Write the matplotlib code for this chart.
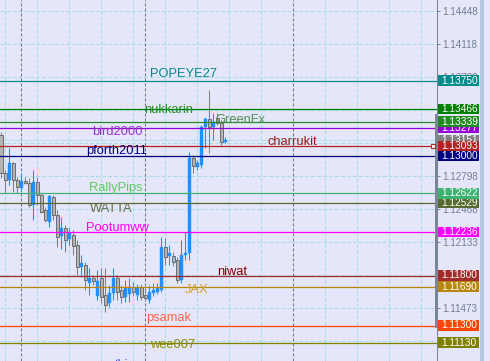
#!/usr/bin/env python3
"""
EURUSD-style candle chart with named horizontal price levels
(MetaTrader look: lavender background, price boxes on the right)
"""

import matplotlib.pyplot as plt
from matplotlib.patches import Rectangle

plt.rcParams['font.family'] = ['Liberation Sans', 'DejaVu Sans']
plt.rcParams['lines.scale_dashes'] = False

# ============================================================
# DATA
# ============================================================

# candles, oldest first
opens = [1.13205, 1.12825, 1.12755, 1.12925, 1.12755, 1.12675, 1.12745, 1.12725,
         1.12505, 1.12735, 1.12605, 1.12455, 1.12335, 1.12585, 1.12405, 1.12195,
         1.12275, 1.12165, 1.12205, 1.12105, 1.11885, 1.11905, 1.11725, 1.11775,
         1.11595, 1.11775, 1.11605, 1.11525, 1.11625, 1.11775, 1.11655, 1.11585,
         1.11615, 1.11685, 1.11605, 1.11685, 1.11605, 1.11555, 1.11625, 1.11635,
         1.11655, 1.12085, 1.11995, 1.11995, 1.11955, 1.11755, 1.12005, 1.12025,
         1.12975, 1.12885, 1.12905, 1.13285, 1.13365, 1.13285, 1.13375, 1.13325,
         1.13135]
highs = [1.13235, 1.12855, 1.13075, 1.12935, 1.12785, 1.12825, 1.12785, 1.12775,
         1.12855, 1.12785, 1.12625, 1.12485, 1.12605, 1.12605, 1.12455, 1.12385,
         1.12305, 1.12275, 1.12255, 1.12155, 1.12005, 1.11935, 1.11875, 1.11805,
         1.11855, 1.11875, 1.11875, 1.11705, 1.11875, 1.11805, 1.11705, 1.11755,
         1.11775, 1.11735, 1.11715, 1.11715, 1.11655, 1.11705, 1.11725, 1.11725,
         1.12185, 1.12175, 1.12105, 1.12035, 1.11985, 1.12155, 1.12235, 1.13035,
         1.13005, 1.12955, 1.13305, 1.13385, 1.13655, 1.13425, 1.13425, 1.13355,
         1.13185]
lows = [1.12775, 1.12625, 1.12705, 1.12635, 1.12625, 1.12635, 1.12715, 1.12485,
        1.12355, 1.12505, 1.12425, 1.12335, 1.12285, 1.12355, 1.12085, 1.12065,
        1.12035, 1.12105, 1.12005, 1.11805, 1.11785, 1.11655, 1.11605, 1.11705,
        1.11555, 1.11525, 1.11435, 1.11485, 1.11555, 1.11555, 1.11525, 1.11535,
        1.11535, 1.11595, 1.11555, 1.11555, 1.11555, 1.11525, 1.11595, 1.11615,
        1.11635, 1.11905, 1.11905, 1.11895, 1.11725, 1.11725, 1.11955, 1.11955,
        1.12825, 1.12855, 1.12875, 1.13075, 1.13025, 1.13155, 1.13305, 1.13105,
        1.13125]
closes = [1.12825, 1.12755, 1.12925, 1.12755, 1.12685, 1.12745, 1.12725, 1.12505,
          1.12735, 1.12605, 1.12435, 1.12355, 1.12595, 1.12405, 1.12185, 1.12275,
          1.12155, 1.12225, 1.12095, 1.11885, 1.11925, 1.11755, 1.11775, 1.11745,
          1.11745, 1.11585, 1.11505, 1.11625, 1.11775, 1.11635, 1.11585, 1.11675,
          1.11685, 1.11635, 1.11675, 1.11585, 1.11575, 1.11635, 1.11655, 1.11675,
          1.12085, 1.11985, 1.12025, 1.11935, 1.11755, 1.12005, 1.12025, 1.12975,
          1.12895, 1.12925, 1.13285, 1.13365, 1.13285, 1.13335, 1.13325, 1.13135,
          1.13151]
bid = 1.13151

# named horizontal levels
level_prices = [1.13750, 1.13466, 1.13339, 1.13277, 1.13093, 1.13000, 1.12622,
                1.12529, 1.12236, 1.11800, 1.11690, 1.11300, 1.11130]
level_colors = ['#008B8B', '#008000', '#228B22', '#9400D3', '#B22222', '#000080',
                '#3CB371', '#556B2F', '#FF00FF', '#A52A2A', '#B8860B', '#FF4500',
                '#808000']

# text objects (name, bar index, price of baseline, colour)
label_names = ['POPEYE27', 'nukkarin', 'GreenFx', 'bird2000', 'charrukit', 'pforth2011',
               'RallyPips', 'WATTA', 'Pootumww', 'niwat', 'JAX', 'psamak', 'wee007', 'thi']
label_x = [37.25, 35.75, 53.6, 22.9, 66.6, 21.4, 22.1, 22.25, 21.25, 54.1, 46.0,
           36.2, 37.25, 28.5]
label_y = [1.13782, 1.13422, 1.13328, 1.13205, 1.13105, 1.13012, 1.12650, 1.12438,
           1.12245, 1.11805, 1.11628, 1.11345, 1.11075, 1.10875]
label_colors = ['#008B8B', '#228B22', '#4F8F4F', '#9932CC', '#9B1B1B', '#000080',
                '#5CCB5C', '#6B6B45', '#FF00FF', '#800000', '#D4A22A', '#FF6347',
                '#8B8B00', '#1E5AC8']

# price scale ticks
price_ticks = [1.14448, 1.14118, 1.13788, 1.13458, 1.13128, 1.12798, 1.12468,
               1.12133, 1.11803, 1.11473, 1.11143]

# period separators (bar index)
separators = [5, 36, 73]

# ============================================================
# STYLE
# ============================================================

BG = '#E6E6FA'
GRID = '#A8DDE6'
SEP = '#6C7B8B'
BULL = '#1E90FF'
BEAR_FACE = '#B4B4B4'
BEAR_EDGE = '#6E6E6E'
SCALE = '#7A8696'

# ============================================================
# PLOTTING
# ============================================================

fig = plt.figure(figsize=(4.9, 3.61), dpi=100)
fig.patch.set_facecolor(BG)
ax = fig.add_axes([0, 0, 437 / 490, 1])
ax.set_facecolor(BG)
ax.set_xlim(-0.25, 109)
ax.set_ylim(1.10945, 1.14555)

# grid
ax.set_xticks([g for g in range(1, 109, 8) if g not in separators])
ax.set_yticks(price_ticks)
ax.grid(True, color=GRID, linestyle=(0, (2.9, 1.4)), linewidth=0.75)
ax.set_axisbelow(True)
for s in separators:
    ax.axvline(s, color=SEP, linestyle=(0, (2.2, 1.4)), linewidth=0.75, zorder=1)

ax.axhline(bid, color='#B4E1EA', linewidth=0.8, zorder=1)

# candles
for i, (o, h, l, c) in enumerate(zip(opens, highs, lows, closes)):
    bull = c >= o
    ax.vlines(i, l, h, color=BULL if bull else '#808080', linewidth=0.75, zorder=3)
    bottom = min(o, c)
    height = max(abs(c - o), 0.0001)
    if bull:
        body = Rectangle((i - 0.375, bottom), 0.75, height, facecolor=BULL,
                         edgecolor=BULL, linewidth=0.3, zorder=3)
    else:
        body = Rectangle((i - 0.375, bottom), 0.75, height, facecolor=BEAR_FACE,
                         edgecolor=BEAR_EDGE, linewidth=0.7, zorder=3)
    ax.add_patch(body)

# levels
for p, col in zip(level_prices, level_colors):
    ax.axhline(p, color=col, linewidth=0.9, zorder=4)

# selected object handle
ax.plot(108, level_prices[4], marker='s', markersize=3, markerfacecolor='white',
        markeredgecolor=level_colors[4], markeredgewidth=0.8, clip_on=False, zorder=7)

for name, x, y, col in zip(label_names, label_x, label_y, label_colors):
    ax.text(x, y, name, color=col, fontsize=9.3, ha='left', va='baseline', zorder=6)

# price scale
for side in ['top', 'left', 'bottom']:
    ax.spines[side].set_visible(False)
ax.spines['right'].set_color(SCALE)
ax.spines['right'].set_linewidth(0.75)
ax.yaxis.tick_right()
ax.set_yticklabels([f'{t:.5f}' for t in price_ticks])
ax.tick_params(axis='y', colors=SCALE, labelcolor='#708090', length=2.2, width=0.7,
               pad=1.4, labelsize=7.1)
ax.tick_params(axis='x', bottom=False, labelbottom=False)

yt = ax.get_yaxis_transform()
ax.add_patch(Rectangle((434.5 / 437, 1.11275), 2.5 / 437, 0.0214, transform=yt,
                       facecolor=SCALE, edgecolor='none', clip_on=False, zorder=5))

box_h = 0.00105
boxes = [(bid, '#808080')] + sorted(zip(level_prices, level_colors))
for z, (p, col) in enumerate(boxes):
    ax.add_patch(Rectangle((438 / 437, p - box_h / 2), 41 / 437, box_h, transform=yt,
                           facecolor=col, edgecolor='none', clip_on=False, zorder=10 + z))
    ax.text(441.5 / 437, p, f'{p:.5f}', transform=yt, color='white', fontsize=7.3,
            ha='left', va='center', clip_on=False, zorder=10 + z)

# right edge strip
fig.patches.append(Rectangle((480 / 490, 0), 4 / 490, 1, transform=fig.transFigure,
                             facecolor='#B4C8E4', edgecolor='none'))

plt.savefig('out.png', dpi=100, facecolor=BG)
